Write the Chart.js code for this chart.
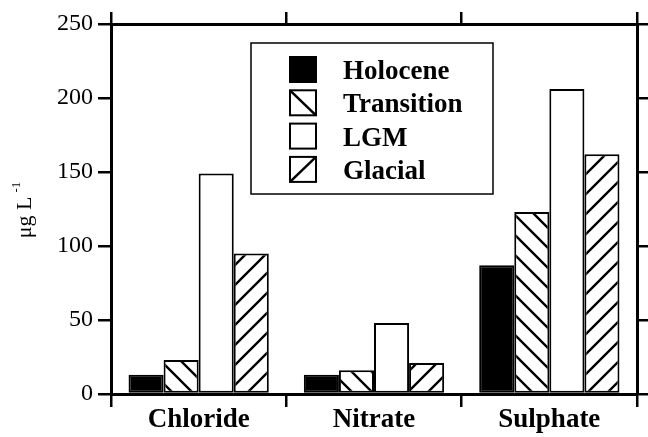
<!DOCTYPE html>
<html>
<head>
<meta charset="utf-8">
<script src="https://cdn.jsdelivr.net/npm/chart.js@4"></script>
<style>
  html, body { margin:0; padding:0; background:#fff; }
</style>
</head>
<body>
<canvas id="ionChart" width="648" height="437"></canvas>
<script>
// --- data ---
const categories = ['Chloride', 'Nitrate', 'Sulphate'];
const seriesNames = ['Holocene', 'Transition', 'LGM', 'Glacial'];
const holocene   = [13, 13, 87];
const transition = [23, 16, 123];
const lgm        = [149, 48, 206];
const glacial    = [95, 21, 162];
const yTickStep = 50;
const yMax = 250;

const SERIF = '"Liberation Serif", "Times New Roman", serif';
const canvas = document.getElementById('ionChart');
const ctx = canvas.getContext('2d');

// diagonal hatch tile, 'down' = "\" and 'up' = "/"
function hatch(dir){
  const s = 20, c = document.createElement('canvas');
  c.width = c.height = s;
  const g = c.getContext('2d');
  g.fillStyle = '#fff'; g.fillRect(0, 0, s, s);
  g.strokeStyle = '#000'; g.lineWidth = 2.4;
  g.beginPath();
  if (dir === 'down') {
    g.moveTo(-2, -2); g.lineTo(s+2, s+2);
    g.moveTo(-2, s-2); g.lineTo(2, s+2);
    g.moveTo(s-2, -2); g.lineTo(s+2, 2);
  } else {
    g.moveTo(-2, s+2); g.lineTo(s+2, -2);
    g.moveTo(-2, 2); g.lineTo(2, -2);
    g.moveTo(s-2, s+2); g.lineTo(s+2, s-2);
  }
  g.stroke();
  return ctx.createPattern(c, 'repeat');
}

const fills = ['#000', hatch('down'), '#fff', hatch('up')];
const swatchKind = ['solid', 'down', 'none', 'up'];
const values = [holocene, transition, lgm, glacial];

const datasets = seriesNames.map((name, i) => ({
  label: name,
  data: values[i],
  backgroundColor: fills[i],
  swatch: swatchKind[i],
  borderColor: '#000',
  borderWidth: 2,
  borderSkipped: false,
  categoryPercentage: 0.8,
  barPercentage: 1.0
}));

// --- boxed legend inside the plot ---
const boxLegend = {
  id: 'boxLegend',
  afterDraw(chart){
    const c = chart.ctx, a = chart.chartArea;
    const bx = a.left + 140, by = a.top + 19, bw = 242, bh = 151;
    c.save();
    c.fillStyle = '#fff';
    c.fillRect(bx, by, bw, bh);
    c.strokeStyle = '#000'; c.lineWidth = 1.5;
    c.strokeRect(bx, by, bw, bh);
    c.font = 'bold 27px ' + SERIF;
    c.textBaseline = 'alphabetic';
    chart.data.datasets.forEach((ds, i) => {
      const sx = bx + 39, sy = by + 14 + i * 33.3, sw = 26, sh = 25;
      c.fillStyle = ds.swatch === 'solid' ? '#000' : '#fff';
      c.fillRect(sx, sy, sw, sh);
      c.lineWidth = 2; c.strokeStyle = '#000';
      c.strokeRect(sx, sy, sw, sh);
      if (ds.swatch === 'down' || ds.swatch === 'up') {
        c.beginPath();
        if (ds.swatch === 'down') { c.moveTo(sx, sy); c.lineTo(sx+sw, sy+sh); }
        else { c.moveTo(sx, sy+sh); c.lineTo(sx+sw, sy); }
        c.lineWidth = 2.5; c.stroke();
      }
      c.fillStyle = '#000';
      c.fillText(ds.label, bx + 92, sy + 22);
    });
    c.restore();
  }
};

// --- rotated y title with superscript ---
const yTitle = {
  id: 'yTitle',
  afterDraw(chart){
    const c = chart.ctx;
    c.save();
    c.translate(31, 210);
    c.rotate(-Math.PI/2);
    c.fillStyle = '#000';
    c.textBaseline = 'alphabetic';
    c.font = '22px ' + SERIF;
    const main = '\u03bcg L';
    const w1 = c.measureText(main).width;
    c.font = '13px ' + SERIF;
    const sup = '-1';
    const w2 = c.measureText(sup).width;
    const x0 = -(w1 + 4 + w2) / 2;
    c.font = '22px ' + SERIF;
    c.fillText(main, x0, 0);
    c.font = '13px ' + SERIF;
    c.fillText(sup, x0 + w1 + 4, -11);
    c.restore();
  }
};

const tickGrid = (len) => ({drawOnChartArea:false, drawTicks:true, tickLength:len, lineWidth:2.5, color:'#000'});
const axisBorder = {display:true, width:3, color:'#000'};

new Chart(canvas, {
  type: 'bar',
  data: { labels: categories, datasets },
  options: {
    responsive: false,
    animation: false,
    devicePixelRatio: 1,
    layout: { padding: 0 },
    plugins: { legend: {display:false}, tooltip: {enabled:false} },
    scales: {
      x: {
        type: 'category', position: 'bottom', offset: true,
        grid: Object.assign(tickGrid(13), {offset:true}),
        border: axisBorder,
        ticks: { color:'#000', padding:0, font:{family:SERIF, size:27, weight:'bold', lineHeight:1.0} },
        afterFit(s){ s.height = 43; }
      },
      xTop: {
        type: 'category', position: 'top', offset: true,
        grid: Object.assign(tickGrid(12), {offset:true}),
        border: axisBorder,
        ticks: { display:false },
        afterFit(s){ s.height = 24; }
      },
      y: {
        position: 'left', min: 0, max: yMax,
        grid: tickGrid(13),
        border: axisBorder,
        ticks: { stepSize: yTickStep, color:'#000', padding:5, font:{family:SERIF, size:24} },
        afterFit(s){ s.width = 111; }
      },
      yRight: {
        position: 'right', min: 0, max: yMax,
        grid: tickGrid(11),
        border: axisBorder,
        ticks: { stepSize: yTickStep, display:false },
        afterFit(s){ s.width = 11; }
      }
    }
  },
  plugins: [boxLegend, yTitle]
});
</script>
</body>
</html>
